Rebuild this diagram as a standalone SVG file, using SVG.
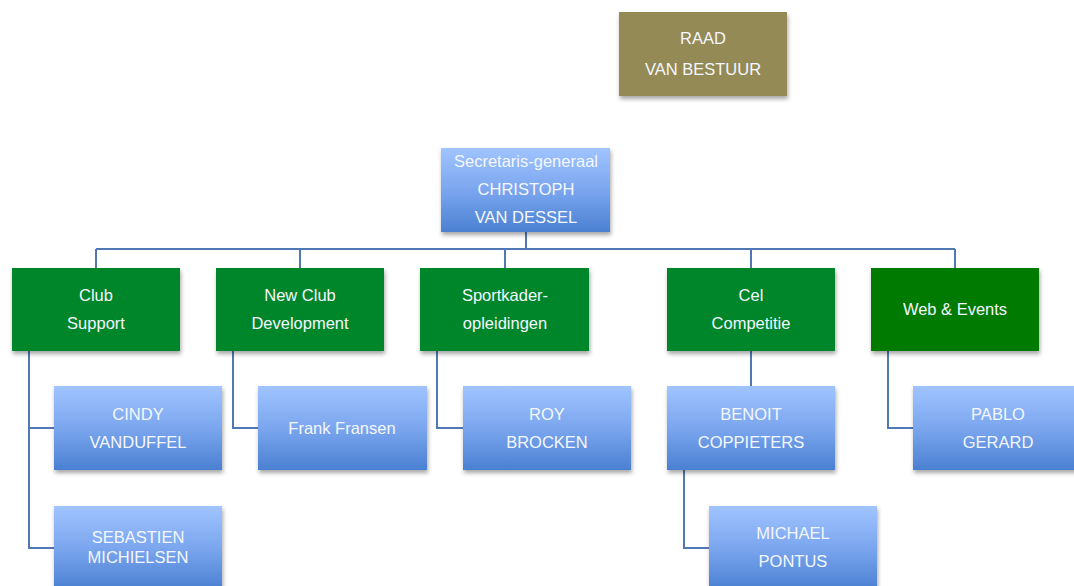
<svg xmlns="http://www.w3.org/2000/svg" width="1074" height="586" viewBox="0 0 1074 586">
<defs>
<linearGradient id="blue" x1="0" y1="0" x2="0" y2="1">
<stop offset="0" stop-color="#a0c4ff"/>
<stop offset="0.5" stop-color="#7ba6ee"/>
<stop offset="1" stop-color="#4a80d2"/>
</linearGradient>
<filter id="sh" x="-10%" y="-10%" width="125%" height="130%">
<feDropShadow dx="1" dy="3" stdDeviation="2" flood-color="#000" flood-opacity="0.35"/>
</filter>
</defs>
<style>
.t{font-family:"Liberation Sans",Arial,sans-serif;font-size:16.5px;fill:#f4f7ff;text-anchor:middle;dominant-baseline:central}
.b{fill:url(#blue);filter:url(#sh)}
.g{fill:#00862b;filter:url(#sh)}
.g2{fill:#007a00;filter:url(#sh)}
.o{fill:#948a54;filter:url(#sh)}
.c{fill:none;stroke:#5078b4;stroke-width:2}
</style>
<rect width="1074" height="586" fill="#ffffff"/>
<g id="connectors">
<path class="c" d="M526 232V249M96 249H955M96 249V268M300 249V268M505 249V268M751 249V268M955 249V268"/>
<path class="c" d="M29 351V548H54M29 428H54"/>
<path class="c" d="M233 351V428H258"/>
<path class="c" d="M437 351V428H463"/>
<path class="c" d="M751 351V386"/>
<path class="c" d="M684 470V548H709"/>
<path class="c" d="M888 351V428H913"/>
</g>
<g id="raad"><rect class="o" x="619" y="12" width="168" height="84"/><text class="t" x="703" y="38">RAAD</text><text class="t" x="703" y="69">VAN BESTUUR</text></g>
<g id="secretaris"><rect class="b" x="441" y="148" width="169" height="84"/><text class="t" x="526" y="161">Secretaris-generaal</text><text class="t" x="526" y="189">CHRISTOPH</text><text class="t" x="526" y="217">VAN DESSEL</text></g>
<g id="clubsupport"><rect class="g" x="12" y="268" width="168" height="83"/><text class="t" x="96" y="295">Club</text><text class="t" x="96" y="323">Support</text></g>
<g id="newclub"><rect class="g" x="216" y="268" width="168" height="83"/><text class="t" x="300" y="295">New Club</text><text class="t" x="300" y="323">Development</text></g>
<g id="sportkader"><rect class="g" x="420" y="268" width="169" height="83"/><text class="t" x="505" y="295">Sportkader-</text><text class="t" x="505" y="323">opleidingen</text></g>
<g id="cel"><rect class="g" x="667" y="268" width="168" height="83"/><text class="t" x="751" y="295">Cel</text><text class="t" x="751" y="323">Competitie</text></g>
<g id="web"><rect class="g2" x="871" y="268" width="168" height="83"/><text class="t" x="955" y="309">Web &amp; Events</text></g>
<g id="cindy"><rect class="b" x="54" y="386" width="168" height="84"/><text class="t" x="138" y="414">CINDY</text><text class="t" x="138" y="442">VANDUFFEL</text></g>
<g id="sebastien"><rect class="b" x="54" y="506" width="168" height="84"/><text class="t" x="138" y="537">SEBASTIEN</text><text class="t" x="138" y="557">MICHIELSEN</text></g>
<g id="frank"><rect class="b" x="258" y="386" width="169" height="84"/><text class="t" x="342" y="428">Frank Fransen</text></g>
<g id="roy"><rect class="b" x="463" y="386" width="168" height="84"/><text class="t" x="547" y="414">ROY</text><text class="t" x="547" y="442">BROCKEN</text></g>
<g id="benoit"><rect class="b" x="667" y="386" width="168" height="84"/><text class="t" x="751" y="414">BENOIT</text><text class="t" x="751" y="442">COPPIETERS</text></g>
<g id="michael"><rect class="b" x="709" y="506" width="168" height="84"/><text class="t" x="793" y="533">MICHAEL</text><text class="t" x="793" y="561">PONTUS</text></g>
<g id="pablo"><rect class="b" x="913" y="386" width="168" height="84"/><text class="t" x="998" y="414">PABLO</text><text class="t" x="998" y="442">GERARD</text></g>
</svg>
